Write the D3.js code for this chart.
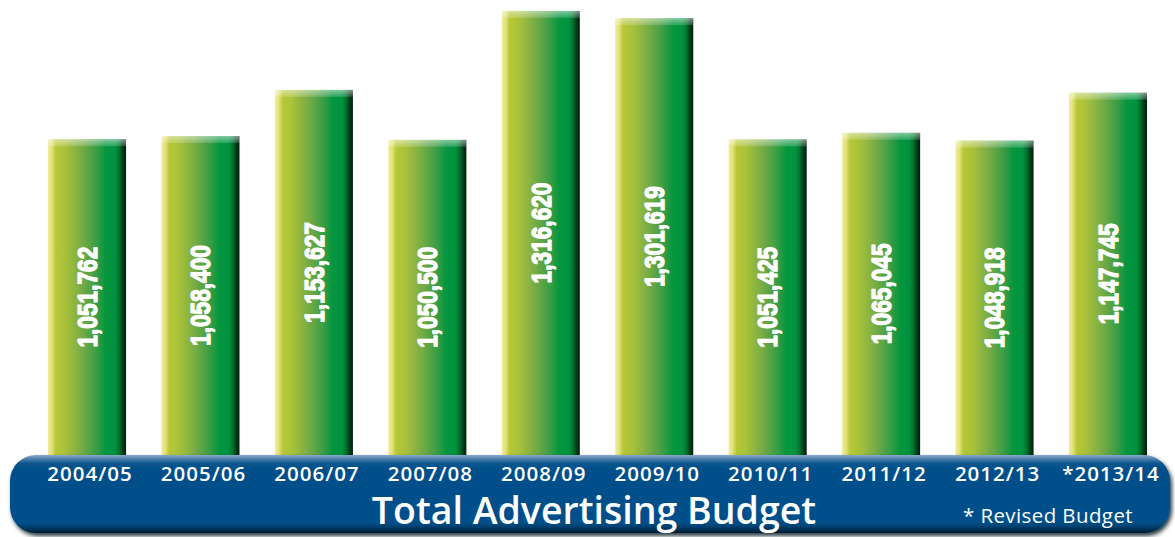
<!DOCTYPE html>
<html>
<head>
<meta charset="utf-8">
<script src="https://cdn.jsdelivr.net/npm/d3@7"></script>
<style>
  html, body { margin: 0; padding: 0; background: #ffffff; }
  svg { display: block; }
</style>
</head>
<body>
<svg id="chart" width="1175" height="537"></svg>
<script>
// Fiscal years and total advertising budget for each
const years = ["2004/05", "2005/06", "2006/07", "2007/08", "2008/09",
               "2009/10", "2010/11", "2011/12", "2012/13", "*2013/14"];
const budget = [1051762, 1058400, 1153627, 1050500, 1316620,
                1301619, 1051425, 1065045, 1048918, 1147745];
const title = "Total Advertising Budget";
const footnote = "* Revised Budget";

const W = 1175, H = 537;
const bandTop = 455;          // top edge of the blue banner (bar base)
const svg = d3.select("#chart");
const defs = svg.append("defs");

// Horizontal gradient giving the bars their cylindrical yellow-green look
const barGrad = defs.append("linearGradient").attr("id", "barGrad")
  .attr("x1", "0").attr("x2", "1").attr("y1", "0").attr("y2", "0");
[[0, "#f0ec98"], [0.05, "#e2e27a"], [0.1, "#b7c836"], [0.22, "#a9c13a"],
 [0.42, "#79ad45"], [0.62, "#3a9d45"], [0.74, "#04963f"], [0.86, "#00923e"],
 [0.91, "#00742f"], [0.955, "#00401b"], [1, "#001c0b"]]
  .forEach(([o, c]) => barGrad.append("stop").attr("offset", o).attr("stop-color", c));

// Light bevel along the top edge of each bar
const capGrad = defs.append("linearGradient").attr("id", "capGrad")
  .attr("x1", "0").attr("x2", "0").attr("y1", "0").attr("y2", "1");
capGrad.append("stop").attr("offset", 0).attr("stop-color", "#ffffff").attr("stop-opacity", 0.5);
capGrad.append("stop").attr("offset", 1).attr("stop-color", "#ffffff").attr("stop-opacity", 0.15);

// Banner fill: highlight at the top, deep blue body, darker bottom rim
const bannerGrad = defs.append("linearGradient").attr("id", "bannerGrad")
  .attr("x1", "0").attr("x2", "0").attr("y1", "0").attr("y2", "1");
[[0, "#8aabc9"], [0.05, "#4d7fab"], [0.11, "#08538c"], [0.2, "#03508b"],
 [0.86, "#03508b"], [0.92, "#02406f"], [1, "#011a2e"]]
  .forEach(([o, c]) => bannerGrad.append("stop").attr("offset", o).attr("stop-color", c));

const shadow = defs.append("filter").attr("id", "bannerShadow")
  .attr("x", "-5%").attr("y", "-20%").attr("width", "110%").attr("height", "150%");
shadow.append("feDropShadow").attr("dx", 2).attr("dy", 3)
  .attr("stdDeviation", 2).attr("flood-color", "#001222").attr("flood-opacity", 0.85);

// Scales
const x = d3.scaleBand().domain(years).range([48, 1147]).paddingInner(0.312).paddingOuter(0);
const y = d3.scaleLinear().domain([400000, 1300000]).range([bandTop, 19]);

const data = years.map((yr, i) => ({ year: yr, value: budget[i] }));

// Bars (their bases run behind the banner)
const bars = svg.append("g").attr("class", "bars");
const bar = bars.selectAll("g").data(data).join("g");
bar.append("rect")
  .attr("x", d => x(d.year))
  .attr("y", d => y(d.value))
  .attr("width", x.bandwidth())
  .attr("height", d => bandTop + 20 - y(d.value))
  .attr("fill", "url(#barGrad)");
bar.append("rect")
  .attr("x", d => x(d.year))
  .attr("y", d => y(d.value))
  .attr("width", x.bandwidth())
  .attr("height", 7)
  .attr("fill", "url(#capGrad)");

// Value labels, rotated, condensed and centred on the visible part of each bar
bar.append("text")
  .attr("transform", d => {
    const cx = x(d.year) + x.bandwidth() / 2;
    const cy = (y(d.value) + bandTop) / 2;
    return `translate(${cx},${cy}) rotate(-90) scale(0.84,1)`;
  })
  .attr("text-anchor", "middle")
  .attr("dy", "0.36em")
  .attr("fill", "#ffffff")
  .attr("font-family", "'Liberation Sans', Arial, sans-serif")
  .attr("font-weight", "bold")
  .attr("font-size", 27)
  .attr("stroke", "#ffffff")
  .attr("stroke-width", 1.3)
  .attr("stroke-linejoin", "round")
  .text(d => d3.format(",")(d.value));

// Banner carrying the axis labels and the title
const banner = svg.append("g").attr("class", "banner");
banner.append("rect")
  .attr("x", 10).attr("y", bandTop)
  .attr("width", 1160).attr("height", 78)
  .attr("rx", 26).attr("ry", 26)
  .attr("fill", "url(#bannerGrad)")
  .attr("filter", "url(#bannerShadow)");

// Category axis drawn on the banner
const axis = d3.axisBottom(x).tickSize(0).tickPadding(0);
const axisG = banner.append("g").attr("transform", `translate(3,${bandTop})`).call(axis);
axisG.select(".domain").remove();
axisG.selectAll("text")
  .attr("y", 25.5)
  .attr("dy", 0)
  .attr("fill", "#ffffff")
  .attr("font-family", "'Open Sans', 'Noto Sans', sans-serif")
  .attr("font-weight", 600)
  .attr("font-size", 20.5)
  .attr("letter-spacing", 1);

banner.append("text")
  .attr("x", 594).attr("y", 524)
  .attr("text-anchor", "middle")
  .attr("fill", "#ffffff")
  .attr("font-family", "'Open Sans', 'Noto Sans', sans-serif")
  .attr("font-weight", 600)
  .attr("font-size", 37.5)
  .text(title);

banner.append("text")
  .attr("x", 1048).attr("y", 523)
  .attr("text-anchor", "middle")
  .attr("fill", "#ffffff")
  .attr("font-family", "'Open Sans', 'Noto Sans', sans-serif")
  .attr("font-weight", 400)
  .attr("font-size", 20.5)
  .attr("letter-spacing", 0.4)
  .text(footnote);
</script>
</body>
</html>
